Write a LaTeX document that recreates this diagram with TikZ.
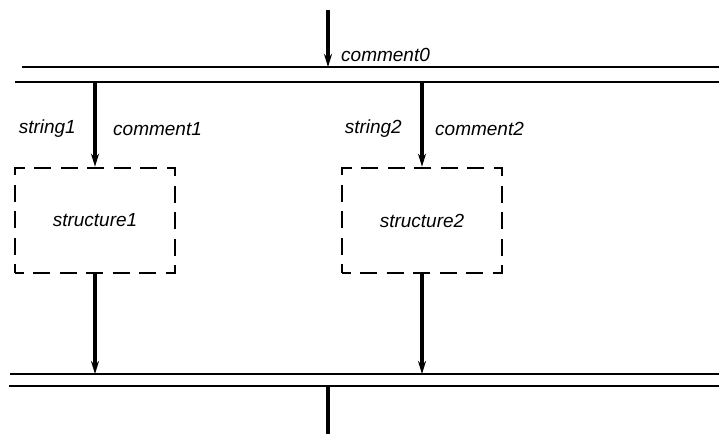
\documentclass[tikz,border=0pt]{standalone}
\usepackage{fontspec}
\setmainfont{Liberation Sans}
\usetikzlibrary{arrows.meta, positioning}
\tikzset{
    structbox/.style={rectangle, minimum width=160pt, minimum height=105pt, draw=black, line width=2.6pt, dash pattern=on 17pt off 9.5pt, dash phase=8.5pt, font=\fontsize{19}{22}\selectfont\itshape},
    lbl/.style={inner sep=0pt, font=\fontsize{19}{22}\selectfont\itshape},
    bar/.style={line width=2.6pt},
    wire/.style={line width=3.4pt},
    arrow/.style={line width=3.4pt,-{Stealth[length=13pt,width=8pt]}}
}

\begin{document}
\begin{tikzpicture}[x=1pt, y=-1pt]
    \useasboundingbox (0,0) rectangle (719,443);

    % double bars
    \draw [bar] (22,67) -- (719,67);
    \draw [bar] (15,82) -- (719,82);
    \draw [bar] (10,374) -- (719,374);
    \draw [bar] (9,386) -- (719,386);

    \coordinate (in0) at (328,10);
    \coordinate (join0) at (328,67);
    \coordinate (fork1) at (95,82);
    \coordinate (fork2) at (422,82);
    \coordinate (join1) at (95,374);
    \coordinate (join2) at (422,374);
    \coordinate (out0) at (328,386);
    \coordinate (exit0) at (328,434);

    \node (struct1) [structbox] at (95,220.5) {structure1};
    \node (struct2) [structbox] at (422,220.5) {structure2};

    \node (comment0) [lbl, anchor=west] at (341,55) {comment0};
    \node (string1) [lbl, anchor=east] at (76,129) {string1};
    \node (comment1) [lbl, anchor=west] at (113,129) {comment1};
    \node (string2) [lbl, anchor=east] at (402,129) {string2};
    \node (comment2) [lbl, anchor=west] at (435,129) {comment2};

    \draw [arrow] (in0) -- (join0);
    \draw [arrow] (fork1) -- (struct1);
    \draw [arrow] (fork2) -- (struct2);
    \draw [arrow] (struct1) -- (join1);
    \draw [arrow] (struct2) -- (join2);
    \draw [wire] (out0) -- (exit0);
\end{tikzpicture}
\end{document}
